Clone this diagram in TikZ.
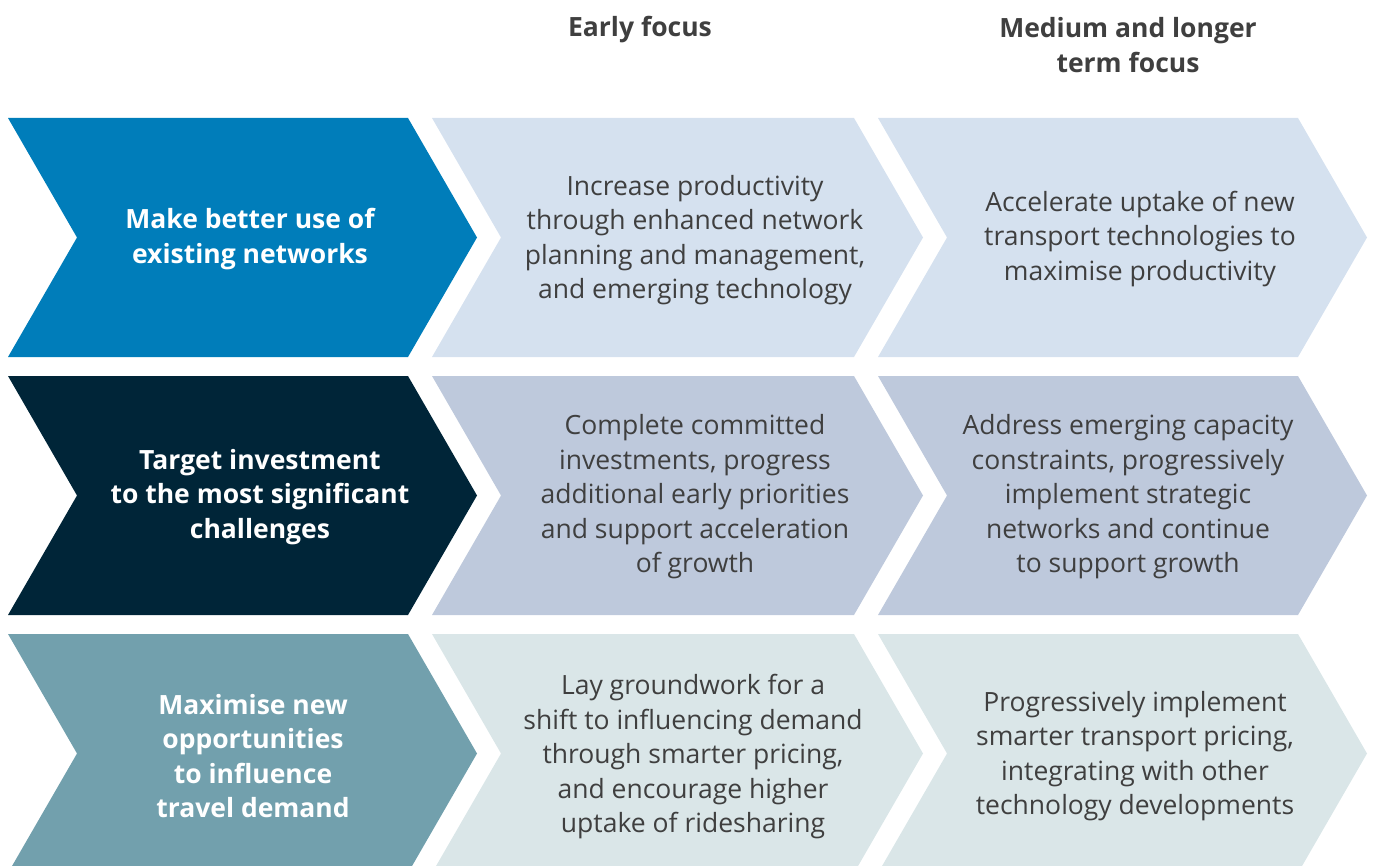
\documentclass[tikz,border=0pt]{standalone}
\usepackage{fontspec}
\setmainfont{Open Sans}
\usetikzlibrary{positioning}

\definecolor{useblue}{HTML}{007DBA}
\definecolor{investnavy}{HTML}{002538}
\definecolor{demandteal}{HTML}{72A0AD}
\definecolor{paleblue}{HTML}{D5E1EF}
\definecolor{palelilac}{HTML}{BEC9DC}
\definecolor{palegrey}{HTML}{DAE6E8}
\definecolor{bodygrey}{HTML}{3F3F3F}

% left x, top y, width of the flat part, colour
\newcommand{\chevron}[4]{%
  \fill[#4] (#1,#2) -- ++(#3,0) -- ++(69,119.5) -- ++(-69,119.5)
    -- ++(-#3,0) -- ++(69,-119.5) -- cycle;}

\begin{document}
\begin{tikzpicture}[
        x=1pt, y=-1pt,
        goal/.style={text=white, align=center, font=\bfseries\fontsize{26.5}{34.5}\selectfont},
        action/.style={text=bodygrey, align=center, font=\fontsize{26.5}{34.5}\selectfont},
        heading/.style={text=bodygrey, align=center, font=\bfseries\fontsize{26.5}{34.5}\selectfont}
    ]
    \useasboundingbox (0,0) rectangle (1375,866);
    \clip (0,0) rectangle (1375,866);

    % Chevrons
    \chevron{8}{118}{400}{useblue}
    \chevron{432}{118}{422}{paleblue}
    \chevron{878}{118}{420}{paleblue}

    \chevron{8}{376}{400}{investnavy}
    \chevron{432}{376}{422}{palelilac}
    \chevron{878}{376}{420}{palelilac}

    \chevron{8}{634}{400}{demandteal}
    \chevron{432}{634}{422}{palegrey}
    \chevron{878}{634}{420}{palegrey}

    % Headings
    \node[heading] (early) at (640,30) {Early focus};
    \node[heading] (longer) at (1128,45) {Medium and longer\\term focus};

    % Row texts
    \node[goal] (use) at (250,239) {Make better use of\\existing networks};
    \node[action] (useearly) at (695,240) {Increase productivity\\through enhanced network\\planning and management,\\and emerging technology};
    \node[action] (uselater) at (1140,239) {Accelerate uptake of new\\transport technologies to\\maximise productivity};

    \node[goal] (invest) at (260,497) {Target investment\\to the most significant\\challenges};
    \node[action] (investearly) at (695,497) {Complete committed\\investments, progress\\additional early priorities\\and support acceleration\\of growth};
    \node[action] (investlater) at (1128,497) {Address emerging capacity\\constraints, progressively\\implement strategic\\networks and continue\\to support growth};

    \node[goal] (demand) at (253,756) {Maximise new\\opportunities\\to influence\\travel demand};
    \node[action] (demandearly) at (693,757) {Lay groundwork for a\\shift to influencing demand\\through smarter pricing,\\and encourage higher\\uptake of ridesharing};
    \node[action] (demandlater) at (1135,756) {Progressively implement\\smarter transport pricing,\\integrating with other\\technology developments};
\end{tikzpicture}
\end{document}
